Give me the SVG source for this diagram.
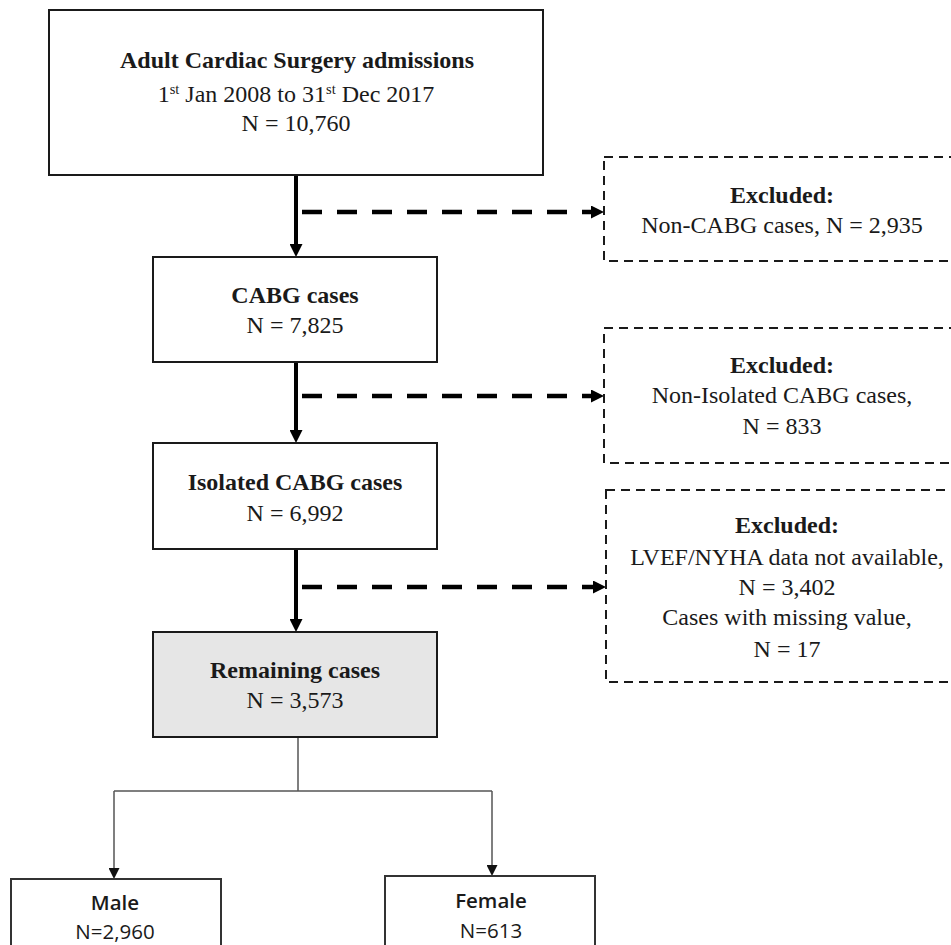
<svg xmlns="http://www.w3.org/2000/svg" width="951" height="945" viewBox="0 0 951 945">
<style>
.box{fill:#fff;stroke:#1a1a1a;stroke-width:2}
.grey{fill:#e6e6e6}
.dbox{fill:#fff;stroke:#1a1a1a;stroke-width:2;stroke-dasharray:9 6}
.sbox{fill:#fff;stroke:#333;stroke-width:2}
.t{font-family:"Liberation Serif","Times New Roman",serif;font-size:24px;fill:#1a1a1a;text-anchor:middle}
.b{font-weight:bold}
.s{font-family:"Open Sans","Liberation Sans",sans-serif;font-size:20.5px;fill:#1a1a1a;text-anchor:middle}
.main{stroke:#000;stroke-width:4;fill:none}
.dash{stroke:#000;stroke-width:4.5;fill:none;stroke-dasharray:20 15}
.thin{stroke:#555;stroke-width:1.5;fill:none}
</style>
<defs>
<marker id="ah" markerUnits="userSpaceOnUse" markerWidth="13" markerHeight="13" refX="0" refY="6.5" orient="auto"><path d="M0,0 L13,6.5 L0,13 z" fill="#000"/></marker>
<marker id="ahs" markerUnits="userSpaceOnUse" markerWidth="11" markerHeight="11" refX="0" refY="5.5" orient="auto"><path d="M0,0 L11,5.5 L0,11 z" fill="#111"/></marker>
</defs>
<rect width="951" height="945" fill="#fff"/>

<g id="connectors">
<line class="main" x1="296" y1="175" x2="296" y2="244" marker-end="url(#ah)"/>
<line class="main" x1="296" y1="362" x2="296" y2="430" marker-end="url(#ah)"/>
<line class="main" x1="296" y1="549" x2="296" y2="619" marker-end="url(#ah)"/>
<line class="dash" x1="302" y1="212" x2="591" y2="212" marker-end="url(#ah)"/>
<line class="dash" x1="302" y1="396" x2="591" y2="396" marker-end="url(#ah)"/>
<line class="dash" x1="302" y1="587" x2="593" y2="587" marker-end="url(#ah)"/>
<line class="thin" x1="298" y1="737" x2="298" y2="791"/>
<line class="thin" x1="114" y1="791" x2="492" y2="791"/>
<line class="thin" x1="114" y1="791" x2="114" y2="868" marker-end="url(#ahs)"/>
<line class="thin" x1="492" y1="791" x2="492" y2="865" marker-end="url(#ahs)"/>
</g>

<g id="n-admissions">
<rect class="box" x="49" y="10" width="494" height="165"/>
<text class="t b" x="297" y="68">Adult Cardiac Surgery admissions</text>
<text class="t" x="296" y="102">1<tspan font-size="14.5" dy="-8">st</tspan><tspan dy="8"> Jan 2008 to 31</tspan><tspan font-size="14.5" dy="-8">st</tspan><tspan dy="8"> Dec 2017</tspan></text>
<text class="t" x="296" y="131">N = 10,760</text>
</g>

<g id="n-cabg">
<rect class="box" x="153" y="257" width="284" height="105"/>
<text class="t b" x="295" y="303">CABG cases</text>
<text class="t" x="295" y="333">N = 7,825</text>
</g>

<g id="n-isolated">
<rect class="box" x="153" y="443" width="284" height="106"/>
<text class="t b" x="295" y="490">Isolated CABG cases</text>
<text class="t" x="295" y="521">N = 6,992</text>
</g>

<g id="n-remaining">
<rect class="box grey" x="153" y="632" width="284" height="105"/>
<text class="t b" x="295" y="678">Remaining cases</text>
<text class="t" x="295" y="708">N = 3,573</text>
</g>

<g id="n-excl1">
<rect class="dbox" x="604" y="157" width="360" height="104"/>
<text class="t b" x="782" y="203">Excluded:</text>
<text class="t" x="782" y="233">Non-CABG cases, N = 2,935</text>
</g>

<g id="n-excl2">
<rect class="dbox" x="604" y="328" width="360" height="135"/>
<text class="t b" x="782" y="373">Excluded:</text>
<text class="t" x="782" y="403">Non-Isolated CABG cases,</text>
<text class="t" x="782" y="434">N = 833</text>
</g>

<g id="n-excl3">
<rect class="dbox" x="606" y="490" width="360" height="192"/>
<text class="t b" x="787" y="533">Excluded:</text>
<text class="t" x="787" y="565">LVEF/NYHA data not available,</text>
<text class="t" x="787" y="595">N = 3,402</text>
<text class="t" x="787" y="625">Cases with missing value,</text>
<text class="t" x="787" y="657">N = 17</text>
</g>

<g id="n-male">
<rect class="sbox" x="11" y="879" width="210" height="90"/>
<text class="s" x="115" y="910" font-weight="600">Male</text>
<text class="s" x="115" y="939">N=2,960</text>
</g>

<g id="n-female">
<rect class="sbox" x="385" y="876" width="210" height="90"/>
<text class="s" x="491" y="908" font-weight="600">Female</text>
<text class="s" x="491" y="938">N=613</text>
</g>
</svg>
